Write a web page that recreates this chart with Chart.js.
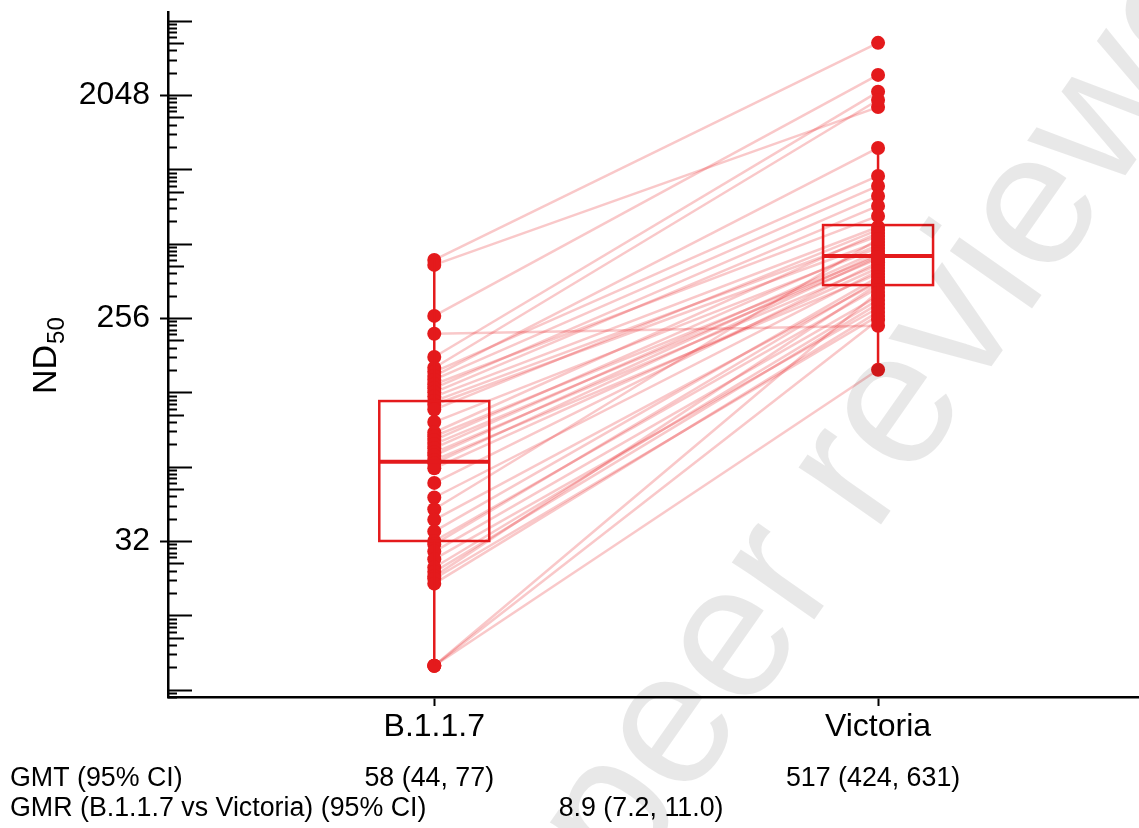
<!DOCTYPE html>
<html>
<head>
<meta charset="utf-8">
<script src="https://cdn.jsdelivr.net/npm/chart.js@4.4.1/dist/chart.umd.min.js"></script>
<style>
  html, body { margin: 0; padding: 0; background: #fff; }
  #wrap { width: 1139px; height: 828px; }
</style>
</head>
<body>
<div id="wrap"><canvas id="nd50" width="1139" height="828"></canvas></div>
<script>
// groups on the x axis
const groups = ['B.1.1.7', 'Victoria'];

// paired ND50 titres, one entry per serum (same index = same serum)
const b117Titres = [440, 420, 261, 221, 178, 161, 155, 149, 144, 138, 133, 128, 123, 118, 114,
  109, 97, 88, 85, 82, 79, 76, 73, 71, 68, 66, 63, 55, 48, 43, 39, 35, 32, 31, 29, 27, 25, 24,
  23, 22.5, 21.5, 10, 10, 10];
const victoriaTitres = [3330, 1830, 2470, 238, 2110, 1955, 963, 1250, 877, 663, 798, 728, 598,
  550, 520, 582, 492, 566, 456, 506, 444, 478, 420, 465, 386, 452, 408, 431, 397, 535, 358, 375,
  339, 365, 314, 281, 303, 292, 351, 261, 271, 251, 158, 326];

// box plot summary
const boxQ1 = [32, 348];
const boxMedian = [67, 456];
const boxQ3 = [118, 609];
const whiskerLow = [10, 158];
const whiskerHigh = [440, 1250];

// labelled y ticks
const yTickValues = [32, 256, 2048];

// summary rows under the plot
const gmtRowLabel = 'GMT (95% CI)';
const gmtValues = ['58 (44, 77)', '517 (424, 631)'];
const gmrRowLabel = 'GMR (B.1.1.7 vs Victoria) (95% CI)';
const gmrValue = '8.9 (7.2, 11.0)';

const RED = '#e41a1c';
const FONT = 'Arial, "Liberation Sans", sans-serif';

const pairLines = b117Titres.map((b, i) => ({
  type: 'line',
  data: [{ x: 0, y: b }, { x: 1, y: victoriaTitres[i] }],
  borderColor: 'rgba(228, 26, 28, 0.24)',
  borderWidth: 2.5,
  pointRadius: 0,
  order: 3
}));

const pointSets = [b117Titres, victoriaTitres].map((vals, g) => ({
  type: 'scatter',
  data: vals.map(v => ({ x: g, y: v })),
  backgroundColor: RED,
  borderColor: RED,
  pointRadius: 7,
  pointBorderWidth: 0,
  order: 1
}));

// box, median and whiskers drawn through the scales
const boxPlugin = {
  id: 'boxes',
  afterDatasetsDraw(chart) {
    const { ctx, scales: { x, y } } = chart;
    const half = 55;
    ctx.save();
    ctx.strokeStyle = RED;
    groups.forEach((g, i) => {
      const cx = x.getPixelForValue(i);
      const q1 = y.getPixelForValue(boxQ1[i]);
      const q3 = y.getPixelForValue(boxQ3[i]);
      const md = y.getPixelForValue(boxMedian[i]);
      ctx.lineWidth = 2.5;
      ctx.strokeRect(cx - half, q3, half * 2, q1 - q3);
      ctx.beginPath();
      ctx.moveTo(cx, q3);
      ctx.lineTo(cx, y.getPixelForValue(whiskerHigh[i]));
      ctx.moveTo(cx, q1);
      ctx.lineTo(cx, y.getPixelForValue(whiskerLow[i]));
      ctx.stroke();
      ctx.lineWidth = 4;
      ctx.beginPath();
      ctx.moveTo(cx - half, md);
      ctx.lineTo(cx + half, md);
      ctx.stroke();
    });
    ctx.restore();
  }
};

// log2 axis ticks: major at each power of two, minors at 2^log10(k)
const log2TicksPlugin = {
  id: 'log2Ticks',
  afterDraw(chart) {
    const { ctx, scales: { y } } = chart;
    const left = y.right;
    ctx.save();
    ctx.strokeStyle = '#000';
    ctx.lineWidth = 2;
    const tick = (v, len, out) => {
      if (v < y.min || v > y.max) return;
      const py = Math.round(y.getPixelForValue(v)) + 0.5;
      ctx.beginPath();
      ctx.moveTo(left - out, py);
      ctx.lineTo(left + len, py);
      ctx.stroke();
    };
    for (let n = 2; n <= 12; n++) {
      const base = Math.pow(2, n);
      tick(base, 24, yTickValues.includes(base) ? 8 : 0);
      for (let k = 2; k <= 9; k++) {
        tick(base * Math.pow(2, Math.log10(k)), k === 5 ? 16 : 9, 0);
      }
    }
    ctx.restore();
  }
};

const textPlugin = {
  id: 'texts',
  afterDraw(chart) {
    const { ctx, scales: { x } } = chart;
    ctx.save();
    ctx.fillStyle = '#000';

    // y axis title ND50
    ctx.save();
    ctx.translate(56, 394);
    ctx.rotate(-Math.PI / 2);
    ctx.textAlign = 'left';
    ctx.textBaseline = 'alphabetic';
    ctx.font = '34px ' + FONT;
    ctx.fillText('ND', 0, 0);
    const w = ctx.measureText('ND').width;
    ctx.font = '24px ' + FONT;
    ctx.fillText('50', w + 1, 8);
    ctx.restore();

    ctx.font = '26.8px ' + FONT;
    ctx.textBaseline = 'middle';
    ctx.textAlign = 'left';
    ctx.fillText(gmtRowLabel, 10, 779);
    ctx.fillText(gmrRowLabel, 10, 809);
    ctx.textAlign = 'center';
    gmtValues.forEach((t, i) => ctx.fillText(t, x.getPixelForValue(i) - 5, 779));
    ctx.fillText(gmrValue, x.getPixelForValue(0.466), 809);
    ctx.restore();

    // preprint watermark
    ctx.save();
    ctx.translate(625, 890);
    ctx.rotate(-55 * Math.PI / 180);
    ctx.font = '190px ' + FONT;
    ctx.fillStyle = 'rgba(0, 0, 0, 0.09)';
    ctx.textAlign = 'left';
    ctx.textBaseline = 'alphabetic';
    ctx.fillText('peer reviewed', 0, 0);
    ctx.restore();
  }
};

new Chart(document.getElementById('nd50'), {
  type: 'scatter',
  data: { datasets: [...pointSets, ...pairLines] },
  options: {
    responsive: false,
    animation: false,
    layout: { autoPadding: false, padding: { top: 12, left: 0, right: 0, bottom: 71 } },
    plugins: { legend: { display: false }, tooltip: { enabled: false } },
    scales: {
      x: {
        type: 'linear',
        min: -0.6,
        max: 1.588,
        afterBuildTicks: s => { s.ticks = groups.map((g, i) => ({ value: i })); },
        afterFit: s => { s.height = 60; s.paddingLeft = 0; s.paddingRight = 0; },
        ticks: {
          callback: v => groups[v] ?? '',
          color: '#000',
          font: { size: 32, family: FONT },
          padding: 2,
          maxRotation: 0,
          autoSkip: false
        },
        grid: { display: true, drawOnChartArea: false, drawTicks: true, tickLength: 9, tickWidth: 2, tickColor: '#000' },
        border: { display: true, color: '#000', width: 2.5 }
      },
      y: {
        type: 'logarithmic',
        min: 7.47,
        max: 4441,
        afterBuildTicks: s => { s.ticks = yTickValues.map(v => ({ value: v })); },
        afterFit: s => { s.width = 168; s.paddingTop = 0; s.paddingBottom = 0; },
        ticks: {
          callback: v => String(v),
          color: '#000',
          font: { size: 32, family: FONT },
          padding: 18
        },
        grid: { display: false, drawTicks: false },
        border: { display: true, color: '#000', width: 2.5 }
      }
    }
  },
  plugins: [boxPlugin, log2TicksPlugin, textPlugin]
});
</script>
</body>
</html>
